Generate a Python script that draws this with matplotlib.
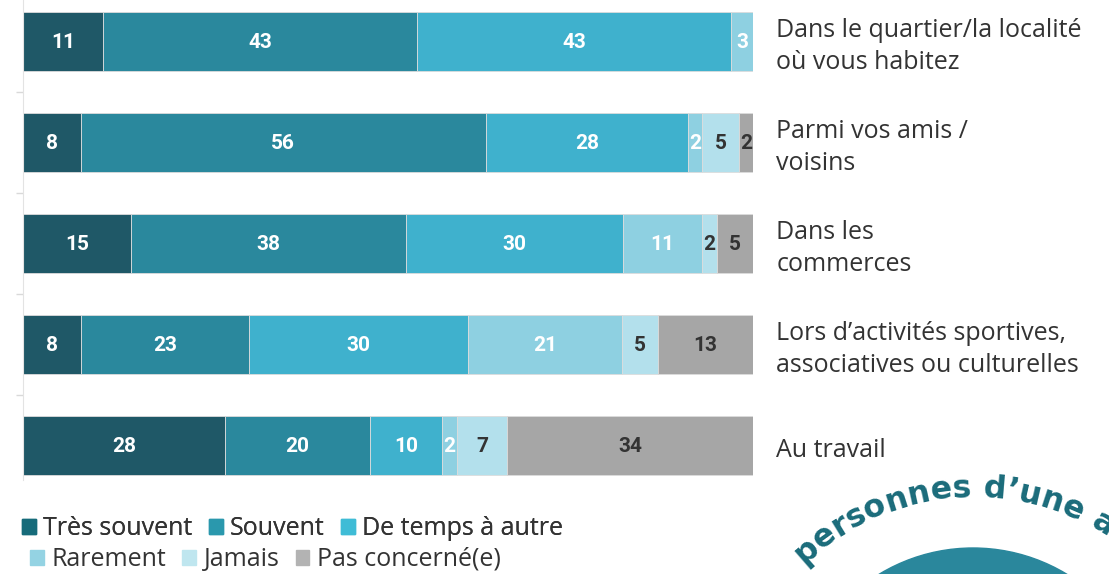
import matplotlib.pyplot as plt
import matplotlib.patches as mpatches
from matplotlib.font_manager import FontProperties, findfont
from matplotlib.ft2font import FT2Font
import numpy as np

categories = ["Dans le quartier/la localité\noù vous habitez",
              "Parmi vos amis /\nvoisins",
              "Dans les\ncommerces",
              "Lors d’activités sportives,\nassociatives ou culturelles",
              "Au travail"]
series = ["Très souvent", "Souvent", "De temps à autre",
          "Rarement", "Jamais", "Pas concerné(e)"]
values = {
    "Très souvent":     [11, 8, 15, 8, 28],
    "Souvent":          [43, 56, 38, 23, 20],
    "De temps à autre": [43, 28, 30, 30, 10],
    "Rarement":         [3, 2, 11, 21, 2],
    "Jamais":           [0, 5, 2, 5, 7],
    "Pas concerné(e)":  [0, 2, 5, 13, 34],
}
colors = ["#1f5867", "#2a889d", "#3fb1cd", "#8ed0e1", "#b3e0ec", "#a6a6a6"]
legend_colors = ["#166b7a", "#2a98ad", "#3fbcd6", "#94d3e3", "#bfe6ef", "#b3b3b3"]
label_colors = ["white", "white", "white", "white", "#333333", "#333333"]
banner = "personnes d’une autre"

plt.rcParams['font.family'] = ['Open Sans', 'DejaVu Sans']

fig = plt.figure(figsize=(11.09, 5.74), dpi=100)
ax = fig.add_axes([23 / 1109, 1 - 480 / 574, 730 / 1109, 480 / 574])

data = np.array([values[s] for s in series], dtype=float)
totals = data.sum(axis=0)
pct = data / totals * 100
y = np.arange(len(categories))
left = np.zeros(len(categories))
for i, s in enumerate(series):
    ax.barh(y, pct[i], left=left, height=0.585, color=colors[i],
            edgecolor="#dcdcdc", linewidth=0.6)
    for j in range(len(categories)):
        if data[i, j] > 0:
            ax.text(left[j] + pct[i, j] / 2, y[j] + 0.01, f"{int(data[i, j])}",
                    ha="center", va="center", color=label_colors[i],
                    fontsize=15, fontweight="bold", family="Roboto")
    left += pct[i]

ax.set_xlim(0, 100)
ax.set_ylim(4.345, -0.41)
ax.set_xticks([])
ax.set_yticks([])
ax.set_yticks(np.arange(0.5, len(categories) - 1), minor=True)
ax.tick_params(axis="y", which="minor", length=5, color="#d9d9d9", width=1)
for sp in ["top", "right", "bottom"]:
    ax.spines[sp].set_visible(False)
ax.spines["left"].set_color("#e3e3e3")

for j, c in enumerate(categories):
    ax.text(1.032, y[j] + 0.05, c, transform=ax.get_yaxis_transform(),
            ha="left", va="center", fontsize=18, color="#333333",
            linespacing=1.38)

# legend, two flowing rows
handles = [mpatches.Patch(color=c) for c in legend_colors]
kw = dict(loc="upper left", ncol=3, frameon=False, fontsize=18,
          handlelength=0.55, handleheight=0.55, handletextpad=0.3,
          columnspacing=0.65, labelcolor="#333333", borderaxespad=0,
          borderpad=0)
leg1 = fig.legend(handles[:3], series[:3],
                  bbox_to_anchor=(22 / 1109, 1 - 516 / 574), **kw)
fig.add_artist(leg1)
fig.legend(handles[3:], series[3:],
           bbox_to_anchor=(30 / 1109, 1 - 547 / 574), **kw)

# curved banner with teal circle
fig.patches.append(mpatches.Circle((973, 574 - 729), 181, transform=None,
                                   color="#2a879c", zorder=0))
cx, cy = 973, 574 - 742
fsize = 22.7
fp = FontProperties(family="DejaVu Sans", weight="bold", size=fsize)
font = FT2Font(findfont(fp))
font.set_size(fsize, 100)
radius = 245
ang = np.deg2rad(133.6)
for ch in banner:
    glyph = font.load_char(ord(ch))
    adv = glyph.linearHoriAdvance / 65536
    mid = ang - (adv / 2) / radius
    px = cx + radius * np.cos(mid)
    py = cy + radius * np.sin(mid)
    fig.text(px / 1109, py / 574, ch, fontproperties=fp, color="#1a6b7a",
             rotation=np.rad2deg(mid) - 90, rotation_mode="anchor",
             ha="center", va="baseline")
    ang -= adv / radius

fig.savefig("out.png", dpi=100)
